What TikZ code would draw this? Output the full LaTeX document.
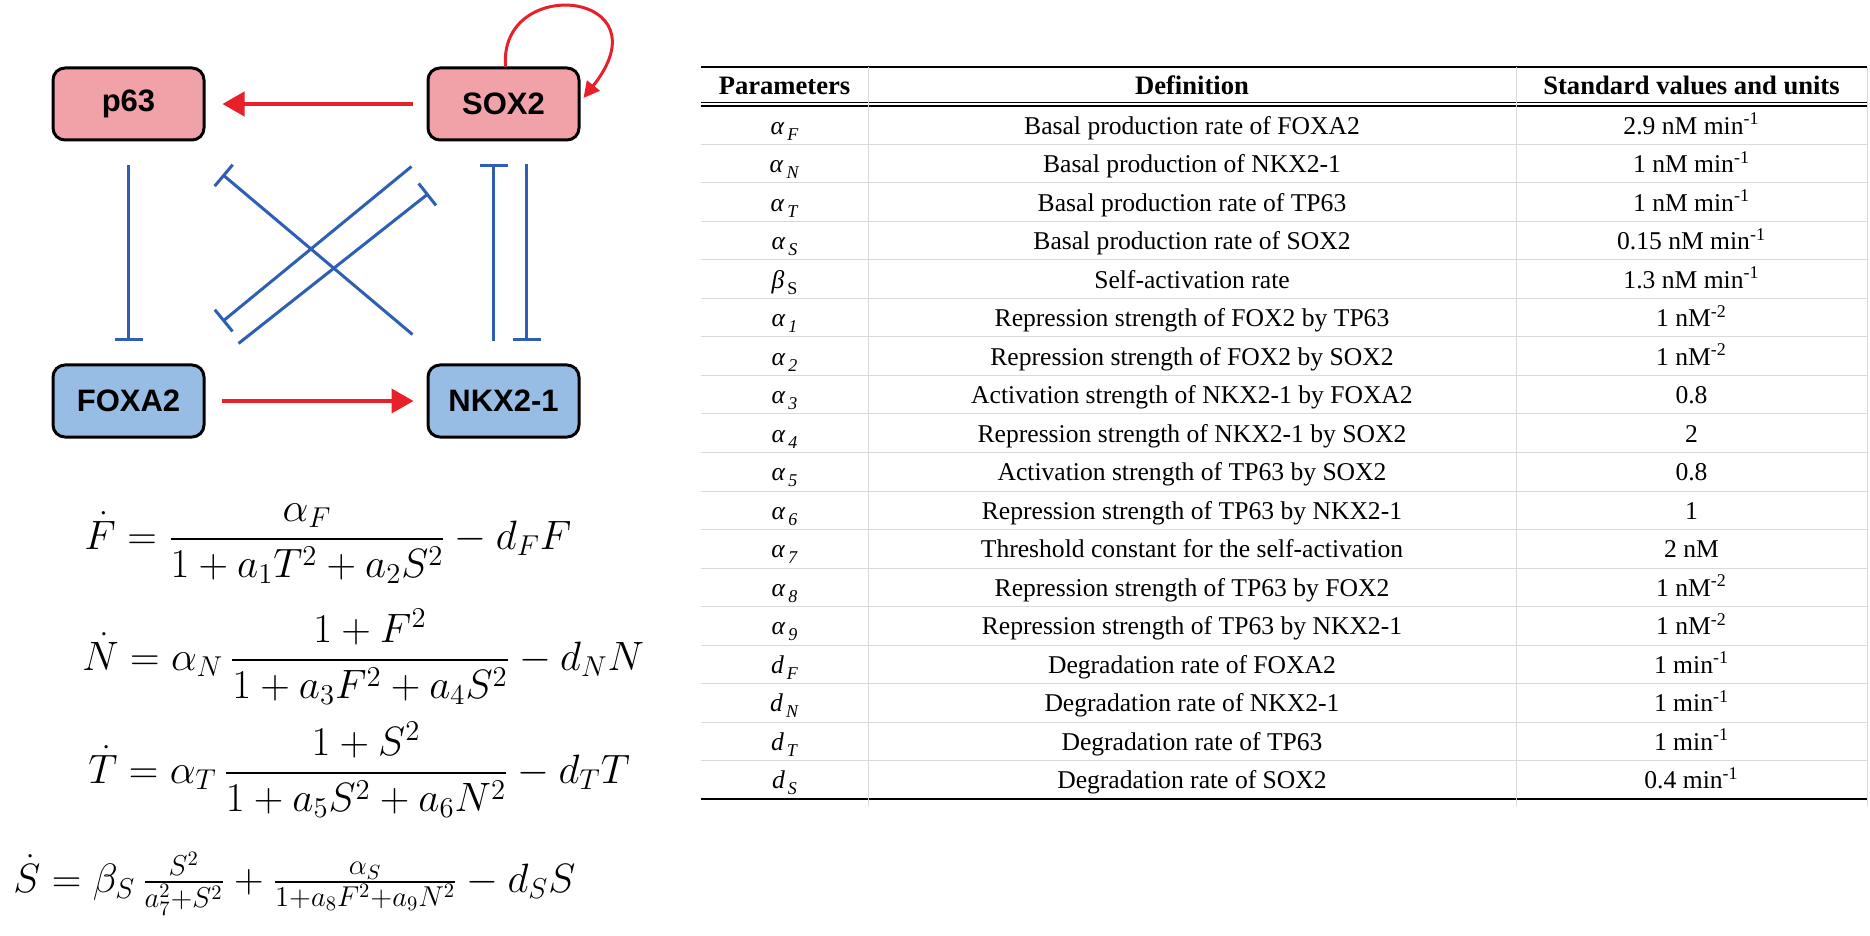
\documentclass[tikz,border=0pt]{standalone}
\usepackage{fix-cm}
\usepackage{amsmath}
\usepackage{fontspec}
\setmainfont{Liberation Serif}
\newfontfamily\genefont{Liberation Sans}
\definecolor{GenePink}{HTML}{F0A2A8}
\definecolor{GeneBlue}{HTML}{98BDE5}
\definecolor{InhibBlue}{HTML}{2F5FB4}
\definecolor{ActRed}{HTML}{E8202A}
\definecolor{RuleGray}{HTML}{DADADA}
\usetikzlibrary{arrows.meta, positioning}
\newcommand{\parsym}[2]{\textit{#1}\hspace{1.5pt}\raisebox{-3pt}{\fontsize{9}{9}\selectfont\textit{#2}}}
\tikzset{
  % Gene boxes
  genebox/.style={rectangle, rounded corners=6pt, draw=black, line width=1.5pt, minimum width=75.5pt, minimum height=36pt, inner sep=0pt, font=\genefont\bfseries\fontsize{15.5}{18}\selectfont},
  pinkbox/.style={genebox, fill=GenePink},
  bluebox/.style={genebox, fill=GeneBlue},
  % Arrow styles
  actarrow/.style={-{Triangle[length=11pt, width=12pt]}, line width=2pt, ActRed},
  inhibit/.style={-{Bar[width=14pt]}, line width=1.5pt, InhibBlue},
  % Equation and table styles
  eqn/.style={anchor=base west, inner sep=0pt, font=\fontsize{20.5}{24}\selectfont},
  headcell/.style={anchor=base, inner sep=0pt, font=\bfseries\fontsize{13.3}{16}\selectfont},
  cell/.style={anchor=base, inner sep=0pt, font=\fontsize{12.8}{15}\selectfont},
  rowline/.style={RuleGray, line width=0.5pt}
}

\begin{document}
\begin{tikzpicture}[x=0.5pt, y=-0.5pt]
  \fill[white] (0,0) rectangle (1870,936);
  \useasboundingbox (0,0) rectangle (1870,936);

  % Gene network
  \node[pinkbox] (p63) at (128.5,104) {p63};
  \node[pinkbox, right=110.5pt of p63] (sox) {SOX2};
  \node[bluebox, below=111pt of p63] (foxa) {FOXA2};
  \node[bluebox, right=110.5pt of foxa] (nkx) {NKX2-1};

  % Activations
  \draw[actarrow, shorten <=7pt, shorten >=8.5pt] (sox) -- (p63);
  \draw[actarrow, shorten <=8pt, shorten >=6.5pt] (foxa) -- (nkx);
  \draw[actarrow, line width=1.5pt, -{Triangle[length=8pt, width=8pt]}]
    ([xshift=1pt]sox.north) .. controls +(-7,-93) and +(85,-107) .. ([xshift=1.5pt, yshift=3pt]sox.east);

  % Repressions
  \draw[inhibit, shorten <=12pt, shorten >=11pt] (p63) -- (foxa);
  \draw[inhibit, shorten <=11.5pt, shorten >=11pt] ([xshift=11.5pt]sox.south) -- ([xshift=11.5pt]nkx.north);
  \draw[inhibit, shorten <=11pt, shorten >=11.5pt] ([xshift=-5pt]nkx.north) -- ([xshift=-5pt]sox.south);
  \draw[inhibit] ([xshift=-7pt, yshift=14.5pt]nkx.north west) -- ([xshift=8.5pt, yshift=-16.5pt]p63.south east);
  \draw[inhibit] ([xshift=-7.5pt, yshift=-12.5pt]sox.south west) -- ([xshift=8.5pt, yshift=21pt]foxa.north east);
  \draw[inhibit] ([xshift=16.5pt, yshift=10pt]foxa.north east) -- ([xshift=1pt, yshift=-26pt]sox.south west);

  % Model equations
  \node[eqn] (eqF) at (84,549) {$\displaystyle \dot{F} = \frac{\alpha_F}{1+a_1T^2+a_2S^2} - d_F F$};
  \node[eqn] (eqN) at (82,670) {$\displaystyle \dot{N} = \alpha_N\, \frac{1+F^2}{1+a_3F^2+a_4S^2} - d_N N$};
  \node[eqn] (eqT) at (88,783) {$\displaystyle \dot{T} = \alpha_T\, \frac{1+S^2}{1+a_5S^2+a_6N^2} - d_T T$};
  \node[eqn] (eqS) at (13,892) {$\dot{S} = \beta_S\, \frac{S^2}{a_7^2+S^2} + \frac{\alpha_S}{1+a_8F^2+a_9N^2} - d_S S$};

  % Parameter table
  \draw[black, line width=1pt] (701,67) -- (1867,67);
  \draw[black, line width=0.6pt] (701,102.5) -- (1867,102.5);
  \draw[black, line width=0.6pt] (701,106) -- (1867,106);
  \draw[black, line width=1pt] (701,799) -- (1867,799);
  \foreach \i in {1,...,17}
    \draw[rowline] (701,{106+38.5*\i}) -- (1867,{106+38.5*\i});
  \foreach \x in {868,1516,1867}
    \draw[rowline] (\x,67) -- (\x,806);

  \node[headcell] (hpar) at (784.5,95) {Parameters};
  \node[headcell] (hdef) at (1192,95) {Definition};
  \node[headcell] (hval) at (1691.5,95) {Standard values and units};

  \foreach \pname/\ptext/\pval [count=\i] in {
    \parsym{α}{F}/Basal production rate of FOXA2/2.9 nM min\textsuperscript{-1},
    \parsym{α}{N}/Basal production of NKX2-1/1 nM min\textsuperscript{-1},
    \parsym{α}{T}/Basal production rate of TP63/1 nM min\textsuperscript{-1},
    \parsym{α}{S}/Basal production rate of SOX2/0.15 nM min\textsuperscript{-1},
    \parsym{β}{\textup{S}}/Self-activation rate/1.3 nM min\textsuperscript{-1},
    \parsym{α}{1}/Repression strength of FOX2 by TP63/1 nM\textsuperscript{-2},
    \parsym{α}{2}/Repression strength of FOX2 by SOX2/1 nM\textsuperscript{-2},
    \parsym{α}{3}/Activation strength of NKX2-1 by FOXA2/0.8,
    \parsym{α}{4}/Repression strength of NKX2-1 by SOX2/2,
    \parsym{α}{5}/Activation strength of TP63 by SOX2/0.8,
    \parsym{α}{6}/Repression strength of TP63 by NKX2-1/1,
    \parsym{α}{7}/Threshold constant for the self-activation/2 nM,
    \parsym{α}{8}/Repression strength of TP63 by FOX2/1 nM\textsuperscript{-2},
    \parsym{α}{9}/Repression strength of TP63 by NKX2-1/1 nM\textsuperscript{-2},
    \parsym{d}{F}/Degradation rate of FOXA2/1 min\textsuperscript{-1},
    \parsym{d}{N}/Degradation rate of NKX2-1/1 min\textsuperscript{-1},
    \parsym{d}{T}/Degradation rate of TP63/1 min\textsuperscript{-1},
    \parsym{d}{S}/Degradation rate of SOX2/0.4 min\textsuperscript{-1}}
  {
    \node[cell] (par\i) at (784.5,{106+38.5*\i-10.25}) {\pname};
    \node[cell] (def\i) at (1192,{106+38.5*\i-10.25}) {\ptext};
    \node[cell] (val\i) at (1691.5,{106+38.5*\i-10.25}) {\pval};
  }
\end{tikzpicture}
\end{document}
